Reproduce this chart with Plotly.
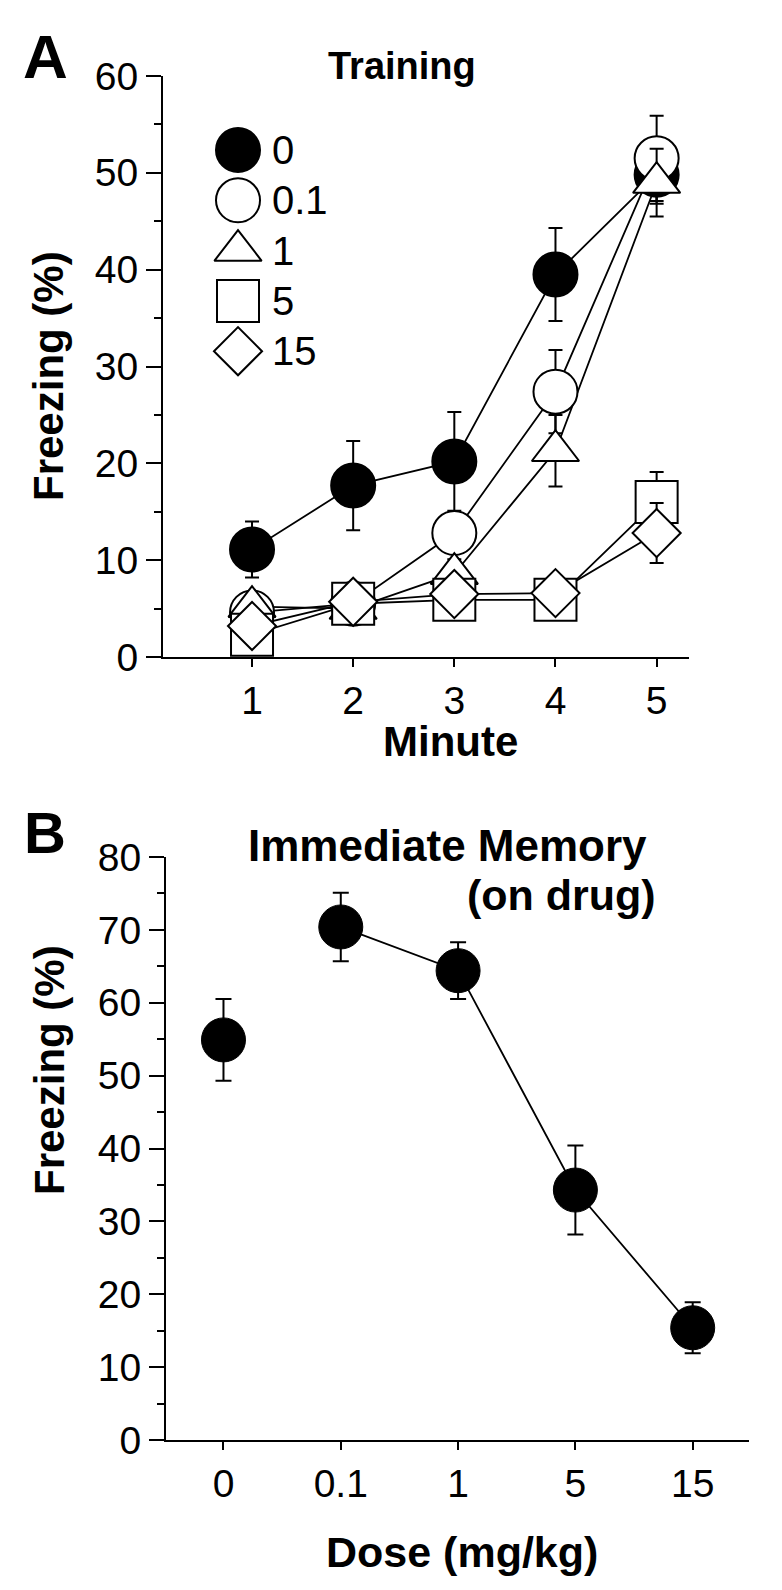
import plotly.graph_objects as go

# the page body keeps its default 8px margin, so the figure is 16px smaller
# than the window and page positions are offset by 8px
PAD = 8
W, H = 782 - 2 * PAD, 1590 - 2 * PAD

# ---- Panel A: training, freezing (%) per minute for each dose group ----
minutes = [1, 2, 3, 4, 5]
dose_groups = ["0", "0.1", "1", "5", "15"]
train_0 = [11.1, 17.7, 20.2, 39.5, 49.8]
train_0_sem = [2.9, 4.6, 5.1, 4.8, 3.0]
train_01 = [4.6, 5.5, 12.8, 27.4, 51.5]
train_01_sem = [1.5, 1.0, 2.0, 4.3, 4.4]
train_1 = [5.2, 5.0, 8.6, 21.3, 49.0]
train_1_sem = [1.0, 1.0, 1.5, 3.7, 3.5]
train_5 = [2.3, 5.5, 5.9, 5.9, 16.0]
train_5_sem = [1.0, 0.8, 0.8, 0.8, 3.1]
train_15 = [3.2, 5.7, 6.5, 6.6, 12.8]
train_15_sem = [1.0, 0.8, 0.8, 0.8, 3.1]

# ---- Panel B: immediate memory (on drug) ----
doses = ["0", "0.1", "1", "5", "15"]
memory = [54.9, 70.4, 64.4, 34.3, 15.4]
memory_sem = [5.6, 4.7, 3.9, 6.1, 3.5]


def px(x):
    return (x - PAD) / W


def py(y):
    return 1 - (y - PAD) / H


series = [
    (train_0, train_0_sem, dict(symbol="circle", size=44, color="black")),
    (train_01, train_01_sem, dict(symbol="circle", size=44, color="white")),
    (train_1, train_1_sem, dict(symbol="triangle-up", size=41, color="white")),
    (train_5, train_5_sem, dict(symbol="square", size=42, color="white")),
    (train_15, train_15_sem, dict(symbol="diamond", size=37, color="white")),
]

fig = go.Figure()

# lines first so every marker sits on top of them
for ys, _, _ in series:
    fig.add_trace(
        go.Scatter(
            x=minutes, y=ys, mode="lines",
            line=dict(color="black", width=1.8),
            xaxis="x", yaxis="y", cliponaxis=False,
        )
    )
for ys, sem, mk in series:
    fig.add_trace(
        go.Scatter(
            x=minutes, y=ys, mode="markers",
            marker=dict(**mk, line=dict(color="black", width=2)),
            error_y=dict(type="data", array=sem, color="black", thickness=2, width=7),
            xaxis="x", yaxis="y", cliponaxis=False,
        )
    )

# legend keys drawn large, on an overlay axis spanning panel A
leg_x = (238 - 163) / (689 - 163)
leg_top = (657 - 150) / (657 - 76)
leg_step = 50.3 / (657 - 76)
for i, (_, _, mk) in enumerate(series):
    fig.add_trace(
        go.Scatter(
            x=[leg_x], y=[leg_top - i * leg_step], mode="markers",
            marker=dict(**mk, line=dict(color="black", width=2)),
            xaxis="x3", yaxis="y3", cliponaxis=False,
        )
    )

# panel B
fig.add_trace(
    go.Scatter(
        x=doses[1:], y=memory[1:], mode="lines",
        line=dict(color="black", width=1.8), xaxis="x2", yaxis="y2",
    )
)
fig.add_trace(
    go.Scatter(
        x=doses, y=memory, mode="markers",
        marker=dict(symbol="circle", size=44, color="black",
                    line=dict(color="black", width=1)),
        error_y=dict(type="data", array=memory_sem, color="black", thickness=2, width=8),
        xaxis="x2", yaxis="y2", cliponaxis=False,
    )
)

tickfont = dict(family="Liberation Sans, Arial, sans-serif", size=39, color="black")
ax_common = dict(
    showline=True, linecolor="black", linewidth=2, showgrid=False, zeroline=False,
    ticks="outside", tickwidth=2, tickcolor="black", tickfont=tickfont,
    automargin=False,
)

fig.update_layout(
    template="none",
    width=W, height=H,
    margin=dict(l=0, r=0, t=0, b=0, autoexpand=False),
    paper_bgcolor="white", plot_bgcolor="rgba(0,0,0,0)",
    showlegend=False,
    font=dict(family="Liberation Sans, Arial, sans-serif", color="black"),
    xaxis=dict(
        **ax_common, domain=[px(163), px(689)], range=[0.12, 5.32],
        tickvals=minutes, ticklen=8, anchor="y",
    ),
    yaxis=dict(
        **ax_common, domain=[py(657), py(76)], range=[0, 60],
        dtick=10, ticklen=15, anchor="x",
        minor=dict(dtick=5, ticklen=7, ticks="outside", tickwidth=2, tickcolor="black"),
    ),
    xaxis3=dict(domain=[px(163), px(689)], range=[0, 1], visible=False, anchor="y3"),
    yaxis3=dict(domain=[py(657), py(76)], range=[0, 1], visible=False, anchor="x3"),
    xaxis2=dict(
        **ax_common, domain=[px(166), px(749)], type="category",
        categoryorder="array", categoryarray=doses,
        range=[-0.49, 4.48], ticklen=8, anchor="y2",
    ),
    yaxis2=dict(
        **ax_common, domain=[py(1440), py(857)], range=[0, 80],
        dtick=10, ticklen=15, anchor="x2",
        minor=dict(dtick=5, ticklen=7, ticks="outside", tickwidth=2, tickcolor="black"),
    ),
)


def note(text, x, y, size, bold=True, angle=0, xanchor="center"):
    fig.add_annotation(
        text=f"<b>{text}</b>" if bold else text,
        x=px(x), y=py(y), xref="paper", yref="paper",
        xanchor=xanchor, yanchor="middle", showarrow=False, textangle=angle,
        font=dict(size=size, color="black"),
    )


note("A", 45, 57, 62)
note("Training", 402, 66, 38)
note("Freezing (%)", 48, 376, 42, angle=-90)
note("Minute", 450, 741, 42)
for i, lab in enumerate(dose_groups):
    note(lab, 270, 150 + i * 50.3, 40, bold=False, xanchor="left")

note("B", 45, 832, 58)
note("Immediate Memory", 447, 845, 44)
note("(on drug)", 561, 895, 43)
note("Freezing (%)", 49, 1070, 42, angle=-90)
note("Dose (mg/kg)", 462, 1552, 43)

fig.write_html("out.html")
